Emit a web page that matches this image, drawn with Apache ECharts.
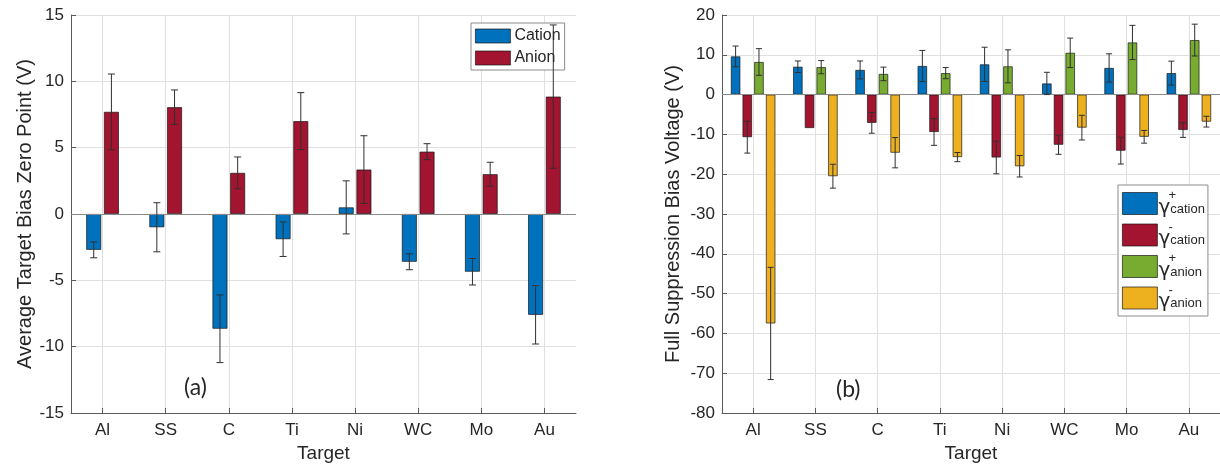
<!DOCTYPE html>
<html><head><meta charset="utf-8">
<script src="https://cdn.jsdelivr.net/npm/echarts@6/dist/echarts.min.js"></script>
<style>html,body{margin:0;padding:0;background:#fff}#c{width:1220px;height:468px}</style>
</head><body><div id="c"></div>
<script>
// ---- data ----
const categories = ['Al','SS','C','Ti','Ni','WC','Mo','Au'];
const leftYTicks = [-15,-10,-5,0,5,10,15];
const rightYTicks = [-80,-70,-60,-50,-40,-30,-20,-10,0,10,20];

const cationZero    = [-2.7, -1.0, -8.65, -1.9, 0.5, -3.6, -4.35, -7.6];
const cationZeroErr = [0.6, 1.85, 2.55, 1.3, 2.0, 0.6, 1.0, 2.2];
const anionZero     = [7.7, 8.05, 3.1, 7.0, 3.35, 4.7, 3.0, 8.85];
const anionZeroErr  = [2.85, 1.3, 1.2, 2.15, 2.55, 0.6, 0.9, 5.4];

const gCationPlus     = [9.6, 7.0, 6.2, 7.2, 7.6, 2.8, 6.7, 5.4];
const gCationPlusErr  = [2.6, 1.45, 2.25, 3.9, 4.3, 2.8, 3.55, 3.0];
const gCationMinus    = [-10.7, -8.4, -7.1, -9.4, -15.8, -12.6, -14.1, -8.9];
const gCationMinusErr = [4.0, 0, 2.6, 3.35, 4.1, 2.4, 3.35, 1.85];
const gAnionPlus      = [8.2, 6.9, 5.2, 5.4, 7.1, 10.5, 13.1, 13.7];
const gAnionPlusErr   = [3.35, 1.65, 1.7, 1.4, 4.15, 3.7, 4.3, 4.0];
const gAnionMinus     = [-57.5, -20.5, -14.6, -15.7, -18.0, -8.3, -10.6, -6.8];
const gAnionMinusErr  = [14.1, 3.0, 3.8, 1.15, 2.7, 3.1, 1.6, 1.35];

// ---- styling ----
const C_BLUE='#0072BD', C_RED='#A2142F', C_GREEN='#77AC30', C_YELLOW='#EDB120';
const TXT='#262626', AX='#5a5a5a', GRIDC='#e0e0e0';
const NUMF='Liberation Sans';
const LBW=15, LGAP=0.18, RBW=9.5, RGAP=0.23;

function xAxisCfg(gi){
  return {type:'category', gridIndex:gi, data:categories, boundaryGap:true,
    axisLine:{onZero:false, lineStyle:{color:AX,width:1}},
    axisTick:{show:true, inside:true, alignWithLabel:true, length:5, lineStyle:{color:AX}},
    axisLabel:{color:TXT, fontSize:17, fontFamily:NUMF, margin:9},
    splitLine:{show:true, alignWithLabel:true, lineStyle:{color:GRIDC,width:1}},
    name:'Target', nameLocation:'middle', nameGap:31,
    nameTextStyle:{color:TXT, fontSize:19, fontFamily:NUMF}};
}
function yAxisCfg(gi, ticks, name, gap){
  return {type:'value', gridIndex:gi, min:ticks[0], max:ticks[ticks.length-1], interval:ticks[1]-ticks[0],
    axisLine:{show:true, lineStyle:{color:AX,width:1}},
    axisTick:{show:true, inside:true, length:5, lineStyle:{color:AX}},
    axisLabel:{color:TXT, fontSize:17, fontFamily:NUMF, margin:7},
    splitLine:{show:true, lineStyle:{color:GRIDC,width:1}},
    name:name, nameLocation:'middle', nameGap:gap,
    nameTextStyle:{color:TXT, fontSize:20, fontFamily:NUMF}};
}
function barSeries(name, vals, color, gi, bw, gap, zeroLine){
  const s = {type:'bar', name, data:vals, xAxisIndex:gi, yAxisIndex:gi,
    barWidth:bw, barGap:(gap*100)+'%',
    itemStyle:{color, borderColor:'rgba(20,20,20,0.85)', borderWidth:0.8}};
  if (zeroLine) s.markLine = {silent:true, symbol:'none', label:{show:false},
    lineStyle:{color:'#8a8a8a', type:'solid', width:1}, data:[{yAxis:0}]};
  return s;
}
function errSeries(vals, errs, idx, n, gi, bw, gap, cap){
  return {type:'custom', xAxisIndex:gi, yAxisIndex:gi, silent:true, z:10,
    data: vals.map((v,i)=>[i, v-errs[i], v+errs[i]]),
    encode:{x:0, y:[1,2]},
    renderItem(params, api){
      const x=api.value(0);
      const lo=api.coord([x, api.value(1)]);
      const hi=api.coord([x, api.value(2)]);
      const cx=lo[0] + (idx-(n-1)/2)*bw*(1+gap);
      const st={stroke:'#303030', lineWidth:1};
      if (Math.abs(lo[1]-hi[1])<0.5) return null;
      return {type:'group', children:[
        {type:'line', shape:{x1:cx,y1:lo[1],x2:cx,y2:hi[1]}, style:st},
        {type:'line', shape:{x1:cx-cap,y1:lo[1],x2:cx+cap,y2:lo[1]}, style:st},
        {type:'line', shape:{x1:cx-cap,y1:hi[1],x2:cx+cap,y2:hi[1]}, style:st}
      ]};
    }};
}

const greekName = {
  'gcp':'{e| }{sup|+}\n{g|γ}{sub|cation}',
  'gcm':'{e| }{sup|-}\n{g|γ}{sub|cation}',
  'gap':'{e| }{sup|+}\n{g|γ}{sub|anion}',
  'gam':'{e| }{sup|-}\n{g|γ}{sub|anion}'
};

const option = {
  animation:false,
  backgroundColor:'#fff',
  title:[
    {text:'(a)', left:184, top:376, padding:0, textStyle:{fontSize:23, fontWeight:'normal', color:TXT, fontFamily:'Lato'}},
    {text:'(b)', left:836, top:378, padding:0, textStyle:{fontSize:23, fontWeight:'normal', color:TXT, fontFamily:'Lato'}}
  ],
  grid:[
    {left:71, top:15, width:505, height:398},
    {left:722, top:15, width:506, height:398}
  ],
  legend:[
    {data:['Cation','Anion'], orient:'vertical', left:471, top:23, icon:'rect',
     itemWidth:35, itemHeight:14, itemGap:6, padding:[5,4,4,4],
     itemStyle:{borderWidth:0.8, borderColor:'rgba(20,20,20,0.85)'},
     backgroundColor:'#fff', borderColor:'#8c8c8c', borderWidth:1, borderRadius:0,
     selectedMode:false,
     textStyle:{color:TXT, fontSize:16, fontFamily:NUMF, padding:[0,0,0,-1]}},
    {data:['gcp','gcm','gap','gam'], orient:'vertical', left:1118, top:185, icon:'rect',
     itemWidth:35, itemHeight:22, itemGap:3, padding:[4,3,4,4],
     itemStyle:{borderWidth:0.8, borderColor:'rgba(20,20,20,0.85)'},
     backgroundColor:'#fff', borderColor:'#8c8c8c', borderWidth:1, borderRadius:0,
     selectedMode:false,
     formatter: n => greekName[n],
     textStyle:{color:TXT, padding:[0,0,0,-4], rich:{
       e:{width:10, fontSize:10, lineHeight:8},
       sup:{fontSize:13, lineHeight:8, fontFamily:NUMF, color:TXT},
       g:{fontSize:20, lineHeight:16, fontFamily:'DejaVu Sans', color:TXT},
       sub:{fontSize:13, lineHeight:10, fontFamily:NUMF, color:TXT, verticalAlign:'bottom'}
     }}}
  ],
  xAxis:[xAxisCfg(0), xAxisCfg(1)],
  yAxis:[
    yAxisCfg(0, leftYTicks, 'Average Target Bias Zero Point (V)', 34),
    yAxisCfg(1, rightYTicks, 'Full Suppression Bias Voltage (V)', 39)
  ],
  series:[
    barSeries('Cation', cationZero, C_BLUE, 0, LBW, LGAP, true),
    barSeries('Anion', anionZero, C_RED, 0, LBW, LGAP, false),
    errSeries(cationZero, cationZeroErr, 0, 2, 0, LBW, LGAP, 3.5),
    errSeries(anionZero, anionZeroErr, 1, 2, 0, LBW, LGAP, 3.5),
    barSeries('gcp', gCationPlus, C_BLUE, 1, RBW, RGAP, true),
    barSeries('gcm', gCationMinus, C_RED, 1, RBW, RGAP, false),
    barSeries('gap', gAnionPlus, C_GREEN, 1, RBW, RGAP, false),
    barSeries('gam', gAnionMinus, C_YELLOW, 1, RBW, RGAP, false),
    errSeries(gCationPlus, gCationPlusErr, 0, 4, 1, RBW, RGAP, 3),
    errSeries(gCationMinus, gCationMinusErr, 1, 4, 1, RBW, RGAP, 3),
    errSeries(gAnionPlus, gAnionPlusErr, 2, 4, 1, RBW, RGAP, 3),
    errSeries(gAnionMinus, gAnionMinusErr, 3, 4, 1, RBW, RGAP, 3)
  ]
};
const chart = echarts.init(document.getElementById('c'), null, {renderer:'canvas'});
chart.setOption(option);
</script></body></html>
